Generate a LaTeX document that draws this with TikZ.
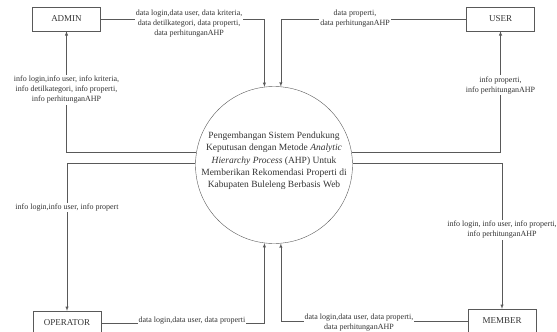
\documentclass[tikz,border=0pt]{standalone}
\usepackage{fontspec}
\setmainfont{Liberation Serif}
\colorlet{garis}{black!65}
\colorlet{teks}{black!80}

\begin{document}
\begin{tikzpicture}[x=1pt, y=-1pt,
  entitas/.style={draw=garis, minimum width=68pt, minimum height=24pt, inner sep=0pt, text=teks, font=\fontsize{9}{11}\selectfont},
  proses/.style={circle, draw=garis, minimum size=157pt, inner sep=0pt},
  alur/.style={-latex, draw=garis, line width=0.5pt},
  ket/.style={fill=white, inner sep=1pt, align=center, text=teks, font=\fontsize{8}{10}\selectfont}]

% Diagram boundary
\useasboundingbox (0,0) rectangle (557,332);

% External entities
\node[entitas] (admin) at (66.5,19) {ADMIN};
\node[entitas] (user) at (500.5,19) {USER};
\node[entitas] (operator) at (67,323) {OPERATOR};
\node[entitas] (member) at (502,321) {MEMBER};

% Process (circle)
\node[proses] (sistem) at (274,165) {};
\node[align=center, text=teks, font=\fontsize{9.5}{12.3}\selectfont] (judul) at ([yshift=4pt]sistem.center)
  {Pengembangan Sistem Pendukung\\ Keputusan dengan Metode \textit{Analytic}\\ \textit{Hierarchy Process} (AHP) Untuk\\ Memberikan Rekomendasi Properti di\\ Kabupaten Buleleng Berbasis Web};

% Data flows into the process
\draw[alur] (admin.east) -| node[ket, pos=0.27, yshift=-5pt] {data login,data user, data kriteria,\\ data detilkategori, data properti,\\ data perhitunganAHP} (sistem.97);
\draw[alur] (user.west) -| node[ket, pos=0.3] {data properti,\\ data perhitunganAHP} (sistem.85);
\draw[alur] (operator.east) -| node[ket, pos=0.278, yshift=2pt] {data login,data user, data properti} (sistem.263);
\draw[alur] (member.west) -| node[ket, pos=0.291, yshift=-2pt] {data login,data user, data properti,\\ data perhitunganAHP} (sistem.275);

% Information flows out of the process
\draw[alur] (sistem.171) -| node[ket, pos=0.758] {info login,info user, info kriteria,\\ info detilkategori, info properti,\\ info perhitunganAHP} (admin.south);
\draw[alur] (sistem.179) -| node[ket, pos=0.65] {info login,info user, info propert} (operator.north);
\draw[alur] (sistem.9) -| node[ket, pos=0.778] {info properti,\\ info perhitunganAHP} (user.south);
\draw[alur] (sistem.1) -| node[ket, pos=0.728] {info login, info user, info properti,\\ info perhitunganAHP} (member.north);

\end{tikzpicture}
\end{document}
